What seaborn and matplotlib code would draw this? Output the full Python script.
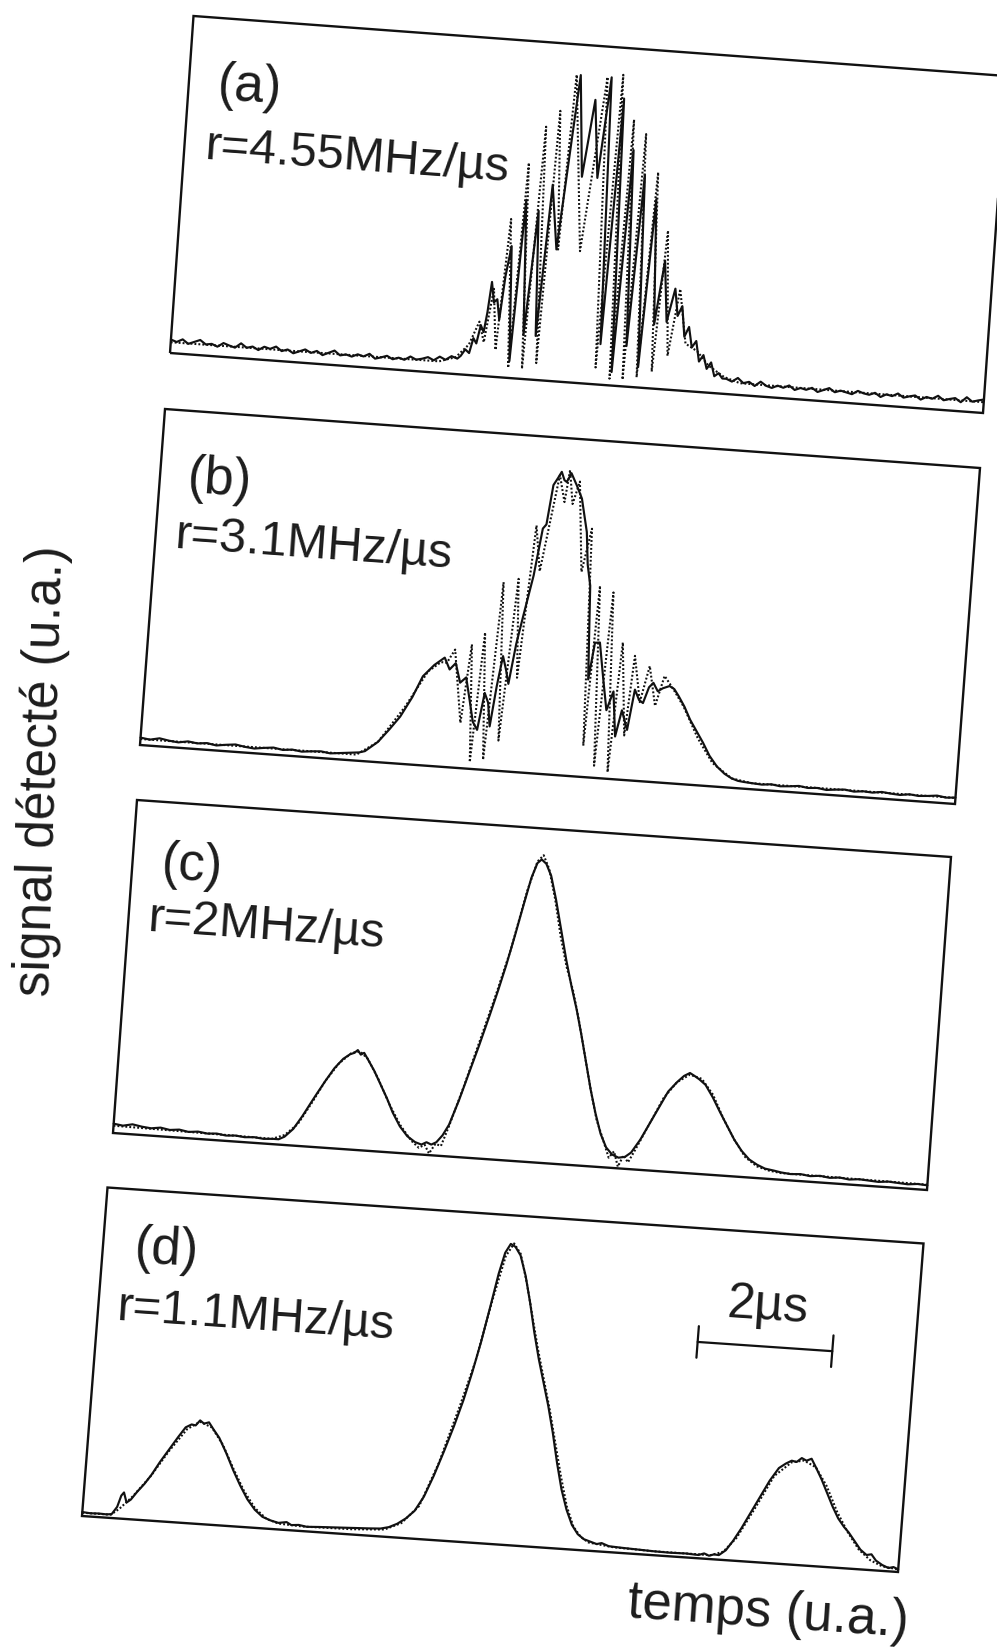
import numpy as np
import matplotlib
matplotlib.use("Agg")
import matplotlib.pyplot as plt
import seaborn as sns
from matplotlib.transforms import Affine2D
from matplotlib.patches import Polygon

# Time runs 0-100 (arbitrary units) across each trace; signal is a fraction of frame height.

# ---------------- (a) r = 4.55 MHz/us ----------------
A_BASE_LEFT = [0.040, 0.034, 0.043, 0.031, 0.038, 0.045, 0.033, 0.036, 0.029, 0.041,
               0.035, 0.030, 0.044, 0.032, 0.037, 0.028, 0.039, 0.034, 0.042, 0.030,
               0.036, 0.026, 0.033, 0.040, 0.031, 0.038, 0.027, 0.035, 0.043, 0.030,
               0.034, 0.029, 0.037, 0.032, 0.041, 0.028, 0.033, 0.039, 0.030, 0.036,
               0.031, 0.042, 0.034, 0.038, 0.044, 0.036, 0.048, 0.040, 0.052, 0.046]
A_MID_T = [35.6, 36.1, 36.6, 37.0, 37.4, 37.8, 38.2, 38.5, 38.8, 39.2,
           39.6, 40.0, 40.4, 40.9, 41.6, 42.3, 43.1, 43.9, 44.6, 45.4,
           46.4, 47.9, 48.9, 49.9, 50.8, 51.7, 52.6, 53.4, 54.2, 55.0,
           55.8, 56.6, 57.4, 58.2, 59.0, 59.8, 60.5, 61.3, 61.8, 62.3,
           62.8, 63.3, 63.8, 64.3, 64.8, 65.3, 65.8, 66.3, 66.8, 67.3, 67.8]
A_MID_S = [0.055, 0.075, 0.065, 0.110, 0.095, 0.150, 0.130, 0.190, 0.280, 0.220,
           0.230, 0.170, 0.300, 0.390, 0.050, 0.530, 0.130, 0.500, 0.130, 0.580,
           0.390, 0.910, 0.610, 0.840, 0.610, 0.910, 0.120, 0.850, 0.040, 0.700,
           0.120, 0.630, 0.060, 0.560, 0.190, 0.380, 0.200, 0.300, 0.220, 0.250,
           0.160, 0.190, 0.130, 0.150, 0.090, 0.110, 0.070, 0.090, 0.050, 0.060, 0.045]
A_BASE_RIGHT = [0.045, 0.038, 0.050, 0.036, 0.041, 0.030, 0.044, 0.033, 0.028, 0.036,
                0.031, 0.039, 0.027, 0.034, 0.030, 0.037, 0.026, 0.033, 0.040, 0.029,
                0.035, 0.031, 0.027, 0.038, 0.032, 0.029, 0.036, 0.025, 0.034, 0.030,
                0.039, 0.028, 0.033, 0.037, 0.026, 0.035, 0.031, 0.041, 0.029, 0.034,
                0.038, 0.027, 0.043, 0.031, 0.036, 0.040]
A_FIT_T = [0, 33.0, 35.0, 36.5, 37.6, 38.3, 39.1, 39.8, 40.6, 41.5,
           42.3, 43.2, 44.1, 44.9, 45.7, 46.6, 47.4, 49.3, 51.2, 52.2,
           53.1, 54.0, 54.8, 55.6, 56.4, 57.3, 58.2, 59.1, 59.9, 60.9,
           61.9, 63.0, 64.5, 66.0, 68.0, 70.0, 100]
A_FIT_S = [0.032, 0.034, 0.050, 0.090, 0.160, 0.100, 0.260, 0.080, 0.470, 0.030,
           0.640, 0.030, 0.750, 0.050, 0.800, 0.390, 0.910, 0.390, 0.910, 0.050,
           0.920, 0.020, 0.790, 0.020, 0.750, 0.030, 0.640, 0.050, 0.470, 0.100,
           0.300, 0.140, 0.120, 0.080, 0.050, 0.035, 0.032]

# ---------------- (b) r = 3.1 MHz/us ----------------
B_BASE_LEFT = [0.022, 0.018, 0.024, 0.019, 0.016, 0.021, 0.017, 0.020, 0.015, 0.019,
               0.022, 0.017, 0.014, 0.018, 0.021, 0.016, 0.019, 0.015, 0.018, 0.020,
               0.016, 0.019, 0.022, 0.025]
B_MID_T = [27.5, 29.0, 30.3, 31.5, 32.8, 33.9, 35.2, 36.4, 37.1, 37.8,
           38.5, 39.2, 39.9, 40.4, 41.0, 41.6, 42.1, 42.5, 43.0, 43.5,
           44.0, 44.4, 45.0, 45.6, 46.5, 47.2, 47.6, 48.1, 48.6, 49.0,
           49.4, 49.7, 50.2, 51.0, 51.7, 52.6, 53.0, 53.5, 54.1, 54.6,
           55.2, 55.9, 56.6, 57.3, 57.9, 58.5, 59.3, 59.9, 60.5, 61.0,
           61.6, 62.1, 62.7, 63.3, 64.1, 64.7, 65.3, 66.1, 66.9, 67.8,
           68.7, 69.6, 70.6, 71.6, 72.5, 73.3]
B_MID_S = [0.030, 0.060, 0.100, 0.140, 0.200, 0.264, 0.300, 0.324, 0.290, 0.310,
           0.253, 0.270, 0.195, 0.140, 0.117, 0.228, 0.200, 0.130, 0.250, 0.341,
           0.300, 0.260, 0.380, 0.464, 0.586, 0.727, 0.740, 0.858, 0.880, 0.899,
           0.875, 0.870, 0.897, 0.860, 0.824, 0.726, 0.630, 0.568, 0.290, 0.400,
           0.402, 0.300, 0.203, 0.260, 0.127, 0.206, 0.149, 0.270, 0.240, 0.232,
           0.280, 0.294, 0.270, 0.280, 0.288, 0.280, 0.260, 0.230, 0.193, 0.160,
           0.127, 0.090, 0.060, 0.040, 0.028, 0.022]
B_BASE_RIGHT = [0.020, 0.018, 0.016, 0.019, 0.015, 0.017, 0.020, 0.016, 0.018, 0.014,
                0.017, 0.019, 0.015, 0.018, 0.016, 0.020, 0.017, 0.015, 0.019, 0.016,
                0.018, 0.021, 0.017, 0.019]
B_FIT_T = [0, 26.5, 29.0, 32.0, 34.5, 36.0, 36.7, 37.6, 38.9, 39.6,
           40.4, 41.1, 42.0, 42.9, 43.7, 44.7, 45.4, 46.4, 47.2, 48.8,
           49.6, 50.0, 50.6, 51.3, 52.3, 53.2, 54.1, 54.7, 55.6, 56.4,
           57.3, 58.0, 59.0, 59.6, 60.6, 61.5, 62.5, 63.4, 64.6, 66.0,
           68.0, 70.0, 72.5, 75.0, 100]
B_FIT_S = [0.018, 0.018, 0.060, 0.170, 0.280, 0.310, 0.309, 0.350, 0.134, 0.369,
           0.020, 0.407, 0.030, 0.560, 0.090, 0.573, 0.280, 0.735, 0.600, 0.889,
           0.810, 0.906, 0.806, 0.874, 0.607, 0.737, 0.093, 0.570, 0.036, 0.553,
           0.020, 0.407, 0.132, 0.370, 0.234, 0.343, 0.226, 0.317, 0.279, 0.230,
           0.140, 0.070, 0.028, 0.018, 0.018]

# ---------------- (c) r = 2 MHz/us ----------------
C_BASE_LEFT = [0.028, 0.024, 0.030, 0.025, 0.022, 0.026, 0.021, 0.024, 0.019, 0.022,
               0.018, 0.020, 0.016, 0.018, 0.015, 0.017, 0.014, 0.016]
C_MID_T = [20.3, 21.0, 22.0, 23.0, 24.0, 24.5, 25.5, 26.5, 27.5, 28.3,
           28.8, 29.2, 29.6, 30.0, 30.6, 31.4, 32.3, 33.2, 34.0, 35.0,
           36.0, 37.0, 37.8, 38.4, 39.0, 39.6, 40.3, 41.0, 42.0, 43.0,
           44.0, 45.0, 45.8, 46.6, 47.4, 48.2, 48.9, 49.5, 50.0, 50.6,
           51.3, 52.1, 53.0, 53.9, 54.8, 55.6, 56.4, 57.2, 58.0, 58.8,
           59.6, 60.4, 61.2, 62.0, 62.8, 63.5, 64.5, 65.5, 66.5, 67.5,
           68.5, 69.3, 70.0, 70.6, 71.2, 72.0, 73.0, 74.0, 75.0, 76.0,
           77.0, 78.0, 79.0, 80.0, 81.1]
C_MID_S = [0.016, 0.025, 0.050, 0.090, 0.135, 0.157, 0.200, 0.240, 0.270, 0.285,
           0.290, 0.299, 0.286, 0.292, 0.270, 0.240, 0.200, 0.160, 0.120, 0.080,
           0.052, 0.036, 0.030, 0.038, 0.032, 0.040, 0.062, 0.095, 0.170, 0.255,
           0.340, 0.430, 0.505, 0.585, 0.675, 0.770, 0.850, 0.895, 0.907, 0.895,
           0.860, 0.790, 0.700, 0.610, 0.530, 0.465, 0.390, 0.310, 0.230, 0.160,
           0.100, 0.060, 0.040, 0.032, 0.036, 0.050, 0.090, 0.140, 0.190, 0.240,
           0.270, 0.290, 0.300, 0.292, 0.283, 0.268, 0.232, 0.190, 0.150, 0.110,
           0.078, 0.054, 0.040, 0.030, 0.026]
C_BASE_RIGHT = [0.022, 0.019, 0.021, 0.017, 0.020, 0.016, 0.019, 0.015, 0.018, 0.016,
                0.014, 0.017, 0.015, 0.013, 0.016, 0.014]
C_FIT_T = [0, 19.5, 21.0, 22.5, 24.0, 25.5, 27.0, 28.5, 29.5, 30.5,
           32.0, 33.5, 35.0, 36.5, 37.5, 38.2, 38.8, 39.5, 40.2, 41.0,
           42.5, 44.0, 45.5, 47.0, 48.5, 49.5, 50.2, 51.0, 52.0, 53.0,
           54.0, 55.0, 56.0, 57.0, 58.0, 59.0, 60.0, 60.8, 61.4, 62.0,
           62.6, 63.2, 64.0, 65.5, 67.0, 68.5, 70.0, 71.5, 73.0, 74.5,
           76.0, 77.5, 79.0, 80.5, 82.0, 100]
C_FIT_S = [0.022, 0.016, 0.030, 0.065, 0.130, 0.200, 0.255, 0.290, 0.295, 0.275,
           0.215, 0.145, 0.085, 0.040, 0.020, 0.030, 0.005, 0.035, 0.030, 0.090,
           0.215, 0.350, 0.485, 0.630, 0.810, 0.900, 0.920, 0.880, 0.790, 0.680,
           0.590, 0.520, 0.430, 0.330, 0.230, 0.140, 0.080, 0.030, 0.050, 0.005,
           0.040, 0.020, 0.060, 0.140, 0.220, 0.270, 0.295, 0.285, 0.240, 0.170,
           0.110, 0.060, 0.035, 0.025, 0.020, 0.016]

# ---------------- (d) r = 1.1 MHz/us ----------------
D_T = [0, 1.0, 2.0, 3.0, 3.6, 4.2, 4.6, 4.9, 5.3, 5.8,
       6.5, 7.3, 8.1, 9.0, 10.0, 11.0, 11.8, 12.5, 13.0, 13.5,
       14.0, 14.6, 15.2, 16.0, 17.0, 18.0, 19.0, 20.0, 21.0, 22.0,
       23.0, 24.0, 25.0, 25.6, 26.5, 27.5, 29.0, 31.0, 33.0, 35.0,
       36.5, 37.5, 38.5, 39.5, 40.5, 41.5, 42.5, 43.5, 44.5, 45.4,
       46.2, 47.0, 47.8, 48.5, 49.1, 49.7, 50.3, 51.0, 51.8, 52.6,
       53.4, 54.2, 55.0, 55.8, 56.6, 57.4, 58.2, 59.0, 59.8, 60.6,
       61.4, 62.2, 63.0, 63.6, 64.5, 66.0, 68.0, 70.0, 72.0, 74.0,
       75.5, 76.2, 76.8, 77.4, 78.0, 78.8, 79.6, 80.5, 81.5, 82.5,
       83.5, 84.5, 85.3, 86.0, 86.6, 87.2, 87.8, 88.4, 89.0, 89.8,
       90.6, 91.4, 92.2, 93.0, 93.6, 94.4, 95.2, 96.0, 96.6, 97.2,
       98.0, 98.8, 99.4, 100.0]
D_S = [0.012, 0.010, 0.011, 0.010, 0.012, 0.035, 0.070, 0.080, 0.050, 0.060,
       0.085, 0.110, 0.140, 0.180, 0.220, 0.260, 0.290, 0.300, 0.298, 0.314,
       0.305, 0.310, 0.290, 0.265, 0.220, 0.170, 0.125, 0.085, 0.055, 0.035,
       0.026, 0.020, 0.024, 0.016, 0.018, 0.014, 0.016, 0.018, 0.020, 0.022,
       0.024, 0.030, 0.042, 0.060, 0.085, 0.130, 0.195, 0.270, 0.350, 0.430,
       0.515, 0.610, 0.720, 0.820, 0.885, 0.913, 0.905, 0.880, 0.820, 0.740,
       0.650, 0.570, 0.500, 0.430, 0.350, 0.260, 0.180, 0.120, 0.075, 0.048,
       0.034, 0.028, 0.022, 0.026, 0.018, 0.016, 0.014, 0.012, 0.011, 0.012,
       0.010, 0.016, 0.010, 0.015, 0.014, 0.030, 0.060, 0.100, 0.150, 0.200,
       0.250, 0.290, 0.305, 0.315, 0.312, 0.325, 0.318, 0.325, 0.300, 0.265,
       0.225, 0.185, 0.150, 0.125, 0.110, 0.085, 0.060, 0.045, 0.048, 0.030,
       0.018, 0.010, 0.014, 0.008]
D_FIT_T = [0, 3.5, 4.5, 6.0, 8.0, 10.0, 12.0, 13.5, 15.0, 16.5,
           18.0, 19.5, 21.0, 22.5, 24.0, 27.0, 33.0, 37.0, 39.0, 41.0,
           43.0, 45.0, 46.5, 48.0, 49.2, 50.1, 51.0, 52.0, 53.0, 54.0,
           55.0, 56.0, 57.0, 58.0, 59.0, 60.0, 61.0, 62.0, 65.0, 70.0,
           77.0, 78.5, 80.0, 82.0, 84.0, 86.0, 87.5, 89.0, 90.5, 92.0,
           93.5, 95.0, 96.5, 98.0, 100.0]
D_FIT_S = [0.010, 0.010, 0.030, 0.070, 0.135, 0.215, 0.285, 0.310, 0.295, 0.245,
           0.175, 0.110, 0.060, 0.030, 0.018, 0.014, 0.016, 0.022, 0.045, 0.100,
           0.235, 0.410, 0.550, 0.740, 0.875, 0.915, 0.885, 0.800, 0.700, 0.600,
           0.510, 0.420, 0.320, 0.220, 0.130, 0.070, 0.040, 0.025, 0.016, 0.012,
           0.012, 0.025, 0.070, 0.165, 0.265, 0.310, 0.318, 0.300, 0.245, 0.170,
           0.110, 0.060, 0.030, 0.014, 0.008]

LETTERS = ["(a)", "(b)", "(c)", "(d)"]
RATES = ["r=4.55MHz/µs", "r=3.1MHz/µs", "r=2MHz/µs", "r=1.1MHz/µs"]
SCALE_BAR_LABEL = "2µs"
SCALE_BAR_START = 73.4   # time units
SCALE_BAR_LENGTH = 16.5  # 2 us in time units


def stitch(left, left_span, mid_t, mid_s, right, right_span):
    """Join noisy baseline samples (evenly spaced in time) with the central part."""
    t = np.concatenate([np.linspace(*left_span, len(left)), mid_t,
                        np.linspace(*right_span, len(right))])
    s = np.concatenate([left, mid_s, right])
    return t, s


traces = [
    (stitch(A_BASE_LEFT, (0, 35.2), A_MID_T, A_MID_S, A_BASE_RIGHT, (68.3, 100)),
     (np.array(A_FIT_T), np.array(A_FIT_S))),
    (stitch(B_BASE_LEFT, (0, 26.8), B_MID_T, B_MID_S, B_BASE_RIGHT, (74.0, 100)),
     (np.array(B_FIT_T), np.array(B_FIT_S))),
    (stitch(C_BASE_LEFT, (0, 19.6), C_MID_T, C_MID_S, C_BASE_RIGHT, (82.0, 100)),
     (np.array(C_FIT_T), np.array(C_FIT_S))),
    ((np.array(D_T), np.array(D_S)),
     (np.array(D_FIT_T), np.array(D_FIT_S))),
]

# Frame geometry of each (slightly tilted) panel, in figure pixels:
# lower-left corner, vector along the time axis, vector along the signal axis.
FRAMES = [
    dict(origin=(170, 353), u=(813, 60), v=(23.5, -337)),
    dict(origin=(140, 745), u=(815, 59), v=(25.0, -336)),
    dict(origin=(113, 1133), u=(814, 57), v=(24.0, -333)),
    dict(origin=(82, 1516), u=(816, 56), v=(25.5, -328.5)),
]
LETTER_POS = [(3.5, 0.761), (3.4, 0.760), (3.5, 0.773), (3.9, 0.781)]
RATE_POS = [(2.6, 0.580), (2.4, 0.589), (2.4, 0.612), (2.3, 0.600)]

sns.set_theme(style="white")
plt.rcParams["font.family"] = ["Liberation Sans", "DejaVu Sans"]

W, H = 997, 1651
fig = plt.figure(figsize=(W / 100, H / 100), dpi=100, facecolor="white")
ax = fig.add_axes([0, 0, 1, 1])
ax.set_xlim(0, W)
ax.set_ylim(H, 0)
ax.axis("off")

INK = "#111111"
TXT = "#1c1c1c"

for i, ((meas, fit), fr) in enumerate(zip(traces, FRAMES)):
    ox, oy = fr["origin"]
    ux, uy = fr["u"]
    vx, vy = fr["v"]
    panel = Affine2D(np.array([[ux / 100.0, vx, ox],
                               [uy / 100.0, vy, oy],
                               [0.0, 0.0, 1.0]]))
    tr = panel + ax.transData
    angle = -np.degrees(np.arctan2(uy, ux))

    # frame
    ax.add_patch(Polygon([(0, 0), (100, 0), (100, 1), (0, 1)], closed=True,
                         fill=False, ec=INK, lw=1.7, transform=tr,
                         joinstyle="miter"))

    # theory (dotted) and measurement (solid)
    sns.lineplot(x=fit[0], y=fit[1], ax=ax, color=INK, lw=1.5,
                 linestyle=(0, (0.9, 1.0)), sort=False, estimator=None,
                 transform=tr)
    sns.lineplot(x=meas[0], y=meas[1], ax=ax, color=INK, lw=1.55,
                 sort=False, estimator=None, transform=tr)

    # labels
    lt, ls_ = LETTER_POS[i]
    ax.text(lt, ls_, LETTERS[i], transform=tr, rotation=angle,
            rotation_mode="anchor", ha="left", va="baseline",
            fontsize=38, color=TXT)
    rt, rs = RATE_POS[i]
    ax.text(rt, rs, RATES[i], transform=tr, rotation=angle,
            rotation_mode="anchor", ha="left", va="baseline",
            fontsize=35, color=TXT)

    if i == 3:
        x0, x1 = SCALE_BAR_START, SCALE_BAR_START + SCALE_BAR_LENGTH
        yb = 0.655
        ax.plot([x0, x1], [yb, yb], color=INK, lw=1.6, transform=tr)
        for xe in (x0, x1):
            ax.plot([xe, xe], [yb - 0.048, yb + 0.048], color=INK, lw=1.6,
                    transform=tr)
        ax.text((x0 + x1) / 2, 0.736, SCALE_BAR_LABEL, transform=tr,
                rotation=angle, rotation_mode="anchor", ha="center",
                va="baseline", fontsize=36, color=TXT)

# axis titles
ax.text(42, 771, "signal détecté (u.a.)", rotation=88.3, rotation_mode="anchor",
        ha="center", va="center", fontsize=37, color=TXT)
ax.text(768, 1613, "temps (u.a.)", rotation=-4.0, rotation_mode="anchor",
        ha="center", va="center", fontsize=38, color=TXT)

ax.set_xlim(0, W)
ax.set_ylim(H, 0)
fig.savefig("out.png", dpi=100, facecolor="white")
